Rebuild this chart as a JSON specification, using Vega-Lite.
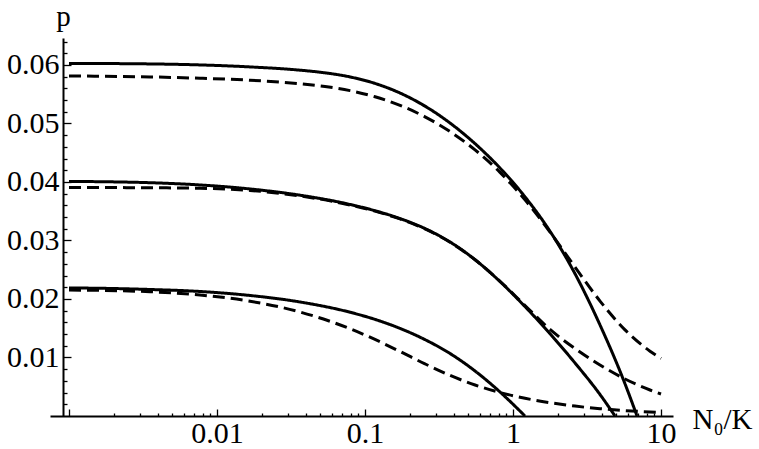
{
  "$schema": "https://vega.github.io/schema/vega-lite/v6.json",
  "width": 623,
  "height": 378,
  "autosize": {"type": "none"},
  "padding": {"left": 50, "top": 38, "right": 86, "bottom": 33},
  "background": "white",
  "config": {"view": {"stroke": null}, "font": "Liberation Serif"},
  "data": {
    "values": [
      {"s": "a1", "t": "solid", "x": 0.001, "p": 0.060256},
      {"s": "a1", "t": "solid", "x": 0.00162, "p": 0.060239},
      {"s": "a1", "t": "solid", "x": 0.003526, "p": 0.060171},
      {"s": "a1", "t": "solid", "x": 0.007676, "p": 0.060000},
      {"s": "a1", "t": "solid", "x": 0.01671, "p": 0.059658},
      {"s": "a1", "t": "solid", "x": 0.03637, "p": 0.059103},
      {"s": "a1", "t": "solid", "x": 0.05366, "p": 0.058650},
      {"s": "a1", "t": "solid", "x": 0.07918, "p": 0.057949},
      {"s": "a1", "t": "solid", "x": 0.1168, "p": 0.056838},
      {"s": "a1", "t": "solid", "x": 0.1724, "p": 0.055197},
      {"s": "a1", "t": "solid", "x": 0.2543, "p": 0.052957},
      {"s": "a1", "t": "solid", "x": 0.3753, "p": 0.050068},
      {"s": "a1", "t": "solid", "x": 0.5538, "p": 0.046547},
      {"s": "a1", "t": "solid", "x": 0.8169, "p": 0.042376},
      {"s": "a1", "t": "solid", "x": 1.205, "p": 0.037453},
      {"s": "a1", "t": "solid", "x": 1.778, "p": 0.031573},
      {"s": "a1", "t": "solid", "x": 2.624, "p": 0.024308},
      {"s": "a1", "t": "solid", "x": 3.871, "p": 0.015556},
      {"s": "a1", "t": "solid", "x": 5.711, "p": 0.005504},
      {"s": "a1", "t": "solid", "x": 6.884, "p": 0.0},

      {"s": "a2", "t": "dashed", "x": 0.001, "p": 0.058120},
      {"s": "a2", "t": "dashed", "x": 0.00162, "p": 0.058068},
      {"s": "a2", "t": "dashed", "x": 0.003526, "p": 0.057949},
      {"s": "a2", "t": "dashed", "x": 0.007676, "p": 0.057726},
      {"s": "a2", "t": "dashed", "x": 0.01671, "p": 0.057385},
      {"s": "a2", "t": "dashed", "x": 0.03637, "p": 0.056786},
      {"s": "a2", "t": "dashed", "x": 0.05366, "p": 0.056316},
      {"s": "a2", "t": "dashed", "x": 0.07918, "p": 0.055607},
      {"s": "a2", "t": "dashed", "x": 0.1168, "p": 0.054564},
      {"s": "a2", "t": "dashed", "x": 0.1724, "p": 0.053094},
      {"s": "a2", "t": "dashed", "x": 0.2543, "p": 0.051128},
      {"s": "a2", "t": "dashed", "x": 0.3753, "p": 0.048607},
      {"s": "a2", "t": "dashed", "x": 0.5538, "p": 0.045487},
      {"s": "a2", "t": "dashed", "x": 0.8169, "p": 0.041641},
      {"s": "a2", "t": "dashed", "x": 1.205, "p": 0.036940},
      {"s": "a2", "t": "dashed", "x": 1.778, "p": 0.031436},
      {"s": "a2", "t": "dashed", "x": 2.624, "p": 0.025453},
      {"s": "a2", "t": "dashed", "x": 3.871, "p": 0.019641},
      {"s": "a2", "t": "dashed", "x": 5.711, "p": 0.014718},
      {"s": "a2", "t": "dashed", "x": 8.427, "p": 0.011077},
      {"s": "a2", "t": "dashed", "x": 10, "p": 0.009846},

      {"s": "b1", "t": "solid", "x": 0.001, "p": 0.040085},
      {"s": "b1", "t": "solid", "x": 0.00162, "p": 0.040043},
      {"s": "b1", "t": "solid", "x": 0.003526, "p": 0.039872},
      {"s": "b1", "t": "solid", "x": 0.007676, "p": 0.039487},
      {"s": "b1", "t": "solid", "x": 0.01671, "p": 0.038803},
      {"s": "b1", "t": "solid", "x": 0.03637, "p": 0.037735},
      {"s": "b1", "t": "solid", "x": 0.07918, "p": 0.036154},
      {"s": "b1", "t": "solid", "x": 0.1168, "p": 0.035085},
      {"s": "b1", "t": "solid", "x": 0.1724, "p": 0.033744},
      {"s": "b1", "t": "solid", "x": 0.2543, "p": 0.032034},
      {"s": "b1", "t": "solid", "x": 0.3753, "p": 0.029744},
      {"s": "b1", "t": "solid", "x": 0.5538, "p": 0.026718},
      {"s": "b1", "t": "solid", "x": 0.8169, "p": 0.022974},
      {"s": "b1", "t": "solid", "x": 1.205, "p": 0.018701},
      {"s": "b1", "t": "solid", "x": 1.778, "p": 0.014068},
      {"s": "b1", "t": "solid", "x": 2.624, "p": 0.009060},
      {"s": "b1", "t": "solid", "x": 3.871, "p": 0.003675},
      {"s": "b1", "t": "solid", "x": 4.889, "p": 0.0},

      {"s": "b2", "t": "dashed", "x": 0.001, "p": 0.039060},
      {"s": "b2", "t": "dashed", "x": 0.00162, "p": 0.039043},
      {"s": "b2", "t": "dashed", "x": 0.003526, "p": 0.039009},
      {"s": "b2", "t": "dashed", "x": 0.007676, "p": 0.038923},
      {"s": "b2", "t": "dashed", "x": 0.01671, "p": 0.038547},
      {"s": "b2", "t": "dashed", "x": 0.03637, "p": 0.037607},
      {"s": "b2", "t": "dashed", "x": 0.07918, "p": 0.036068},
      {"s": "b2", "t": "dashed", "x": 0.1168, "p": 0.035009},
      {"s": "b2", "t": "dashed", "x": 0.1724, "p": 0.033675},
      {"s": "b2", "t": "dashed", "x": 0.2543, "p": 0.031966},
      {"s": "b2", "t": "dashed", "x": 0.3753, "p": 0.029692},
      {"s": "b2", "t": "dashed", "x": 0.5538, "p": 0.026701},
      {"s": "b2", "t": "dashed", "x": 0.8169, "p": 0.023026},
      {"s": "b2", "t": "dashed", "x": 1.205, "p": 0.018889},
      {"s": "b2", "t": "dashed", "x": 1.778, "p": 0.014786},
      {"s": "b2", "t": "dashed", "x": 2.624, "p": 0.011538},
      {"s": "b2", "t": "dashed", "x": 3.871, "p": 0.008718},
      {"s": "b2", "t": "dashed", "x": 5.711, "p": 0.006325},
      {"s": "b2", "t": "dashed", "x": 8.427, "p": 0.004444},
      {"s": "b2", "t": "dashed", "x": 10, "p": 0.003761},

      {"s": "c1", "t": "solid", "x": 0.001, "p": 0.021880},
      {"s": "c1", "t": "solid", "x": 0.00162, "p": 0.021829},
      {"s": "c1", "t": "solid", "x": 0.003526, "p": 0.021624},
      {"s": "c1", "t": "solid", "x": 0.007676, "p": 0.021282},
      {"s": "c1", "t": "solid", "x": 0.01671, "p": 0.020598},
      {"s": "c1", "t": "solid", "x": 0.03637, "p": 0.019487},
      {"s": "c1", "t": "solid", "x": 0.07918, "p": 0.017735},
      {"s": "c1", "t": "solid", "x": 0.1168, "p": 0.016513},
      {"s": "c1", "t": "solid", "x": 0.1724, "p": 0.014974},
      {"s": "c1", "t": "solid", "x": 0.2543, "p": 0.013051},
      {"s": "c1", "t": "solid", "x": 0.3753, "p": 0.010684},
      {"s": "c1", "t": "solid", "x": 0.5538, "p": 0.007692},
      {"s": "c1", "t": "solid", "x": 0.8169, "p": 0.004103},
      {"s": "c1", "t": "solid", "x": 1.205, "p": 0.0},

      {"s": "c2", "t": "dashed", "x": 0.001, "p": 0.021513},
      {"s": "c2", "t": "dashed", "x": 0.00162, "p": 0.021470},
      {"s": "c2", "t": "dashed", "x": 0.003526, "p": 0.021239},
      {"s": "c2", "t": "dashed", "x": 0.007676, "p": 0.020684},
      {"s": "c2", "t": "dashed", "x": 0.01671, "p": 0.019615},
      {"s": "c2", "t": "dashed", "x": 0.03637, "p": 0.017778},
      {"s": "c2", "t": "dashed", "x": 0.07918, "p": 0.014915},
      {"s": "c2", "t": "dashed", "x": 0.1168, "p": 0.013077},
      {"s": "c2", "t": "dashed", "x": 0.1724, "p": 0.011026},
      {"s": "c2", "t": "dashed", "x": 0.2543, "p": 0.008906},
      {"s": "c2", "t": "dashed", "x": 0.3753, "p": 0.006940},
      {"s": "c2", "t": "dashed", "x": 0.5538, "p": 0.005299},
      {"s": "c2", "t": "dashed", "x": 0.8169, "p": 0.004017},
      {"s": "c2", "t": "dashed", "x": 1.205, "p": 0.003026},
      {"s": "c2", "t": "dashed", "x": 1.778, "p": 0.002274},
      {"s": "c2", "t": "dashed", "x": 2.624, "p": 0.001692},
      {"s": "c2", "t": "dashed", "x": 3.871, "p": 0.001248},
      {"s": "c2", "t": "dashed", "x": 5.711, "p": 0.000923},
      {"s": "c2", "t": "dashed", "x": 8.427, "p": 0.000684},
      {"s": "c2", "t": "dashed", "x": 10, "p": 0.000598}
    ]
  },
  "mark": {"type": "line", "color": "black", "strokeWidth": 3, "interpolate": "monotone", "clip": true},
  "encoding": {
    "x": {
      "field": "x",
      "type": "quantitative",
      "scale": {"type": "log", "domain": [0.000744, 12.05], "nice": false},
      "axis": {
        "values": [0.001, 0.002, 0.003, 0.004, 0.005, 0.006, 0.007, 0.008, 0.009,
                   0.01, 0.02, 0.03, 0.04, 0.05, 0.06, 0.07, 0.08, 0.09,
                   0.1, 0.2, 0.3, 0.4, 0.5, 0.6, 0.7, 0.8, 0.9,
                   1, 2, 3, 4, 5, 6, 7, 8, 9, 10],
        "labelExpr": "datum.value == 0.01 ? '0.01' : datum.value == 0.1 ? '0.1' : datum.value == 1 ? '1' : datum.value == 10 ? '10' : ''",
        "tickSize": {"condition": {"test": "abs(log(datum.value)/LN10 - round(log(datum.value)/LN10)) < 0.000001", "value": -7}, "value": -3},
        "tickColor": "black",
        "tickWidth": 1.3,
        "domainColor": "black",
        "domainWidth": 2,
        "grid": false,
        "labelFont": "Liberation Serif",
        "labelFontSize": 30,
        "labelColor": "black",
        "labelPadding": 9,
        "labelFlush": false,
        "labelOverlap": false,
        "title": "N₀/K",
        "titleFont": "Liberation Serif",
        "titleFontSize": 29,
        "titleFontWeight": "normal",
        "titleColor": "black",
        "titleAnchor": "start",
        "titleAlign": "left",
        "titleBaseline": "alphabetic",
        "titleX": 642,
        "titleY": 12
      }
    },
    "y": {
      "field": "p",
      "type": "quantitative",
      "scale": {"domain": [0, 0.0646], "nice": false, "zero": true},
      "axis": {
        "offset": -13,
        "values": [0.002, 0.004, 0.006, 0.008, 0.01, 0.012, 0.014, 0.016, 0.018, 0.02,
                   0.022, 0.024, 0.026, 0.028, 0.03, 0.032, 0.034, 0.036, 0.038, 0.04,
                   0.042, 0.044, 0.046, 0.048, 0.05, 0.052, 0.054, 0.056, 0.058, 0.06,
                   0.062, 0.064],
        "labelExpr": "abs(datum.value*100 - round(datum.value*100)) < 0.000001 ? format(datum.value, '.2f') : ''",
        "tickSize": {"condition": {"test": "abs(datum.value*100 - round(datum.value*100)) < 0.000001", "value": -8}, "value": -4},
        "tickColor": "black",
        "tickWidth": 1.3,
        "domainColor": "black",
        "domainWidth": 2,
        "grid": false,
        "labelFont": "Liberation Serif",
        "labelFontSize": 30,
        "labelColor": "black",
        "labelPadding": 12,
        "labelFlush": false,
        "labelOverlap": false,
        "title": "p",
        "titleFont": "Liberation Serif",
        "titleFontSize": 29,
        "titleFontWeight": "normal",
        "titleColor": "black",
        "titleAngle": 0,
        "titleAlign": "center",
        "titleBaseline": "alphabetic",
        "titleAnchor": "start",
        "titleX": 0,
        "titleY": -13
      }
    },
    "detail": {"field": "s"},
    "strokeDash": {
      "field": "t",
      "type": "nominal",
      "scale": {"domain": ["solid", "dashed"], "range": [[1, 0], [12, 6]]},
      "legend": null
    }
  }
}
